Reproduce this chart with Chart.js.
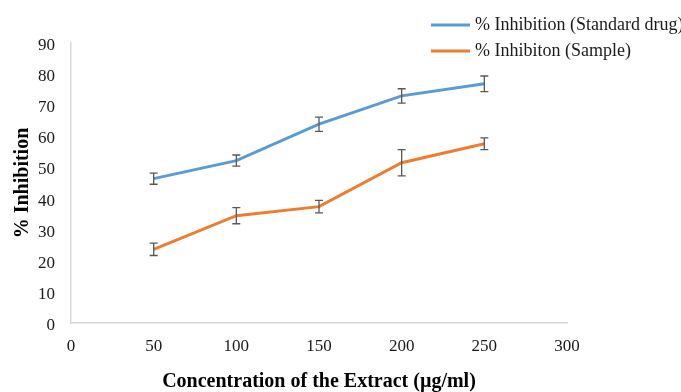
<!DOCTYPE html>
<html>
<head>
<meta charset="utf-8">
<script src="https://cdn.jsdelivr.net/npm/chart.js@4"></script>
<style>
  html, body { margin: 0; padding: 0; background: #fff; }
  #wrap { width: 681px; height: 392px; position: relative; }
</style>
</head>
<body>
<div id="wrap"><canvas id="c"></canvas></div>
<script>
const concentrations = [50, 100, 150, 200, 250];
const standardLabel = "% Inhibition (Standard drug)";
const standardValues = [46.4, 52.2, 63.9, 73.0, 76.9];
const standardErrors = [1.8, 1.8, 2.3, 2.3, 2.5];
const sampleLabel = "% Inhibiton (Sample)";
const sampleValues = [23.7, 34.5, 37.4, 51.5, 57.6];
const sampleErrors = [2.0, 2.6, 2.0, 4.2, 1.9];
const xTitle = "Concentration of the Extract (µg/ml)";
const yTitle = "% Inhibition";

const FONT = "'Liberation Serif', 'Times New Roman', serif";

const toPoints = (xs, ys) => xs.map((x, i) => ({ x: x, y: ys[i] }));

const errorBarPlugin = {
  id: 'errorBars',
  afterDatasetsDraw(chart) {
    const ctx = chart.ctx;
    const xs = chart.scales.x, ys = chart.scales.y;
    ctx.save();
    ctx.strokeStyle = '#595959';
    ctx.lineWidth = 1.3;
    chart.data.datasets.forEach(ds => {
      const errs = ds.errors || [];
      ds.data.forEach((p, i) => {
        const e = errs[i];
        if (e == null) return;
        const px = xs.getPixelForValue(p.x);
        const top = ys.getPixelForValue(p.y + e);
        const bot = ys.getPixelForValue(p.y - e);
        const cap = 4;
        ctx.beginPath();
        ctx.moveTo(px, top); ctx.lineTo(px, bot);
        ctx.moveTo(px - cap, top); ctx.lineTo(px + cap, top);
        ctx.moveTo(px - cap, bot); ctx.lineTo(px + cap, bot);
        ctx.stroke();
      });
    });
    ctx.restore();
  }
};

const legendPlugin = {
  id: 'customLegend',
  afterDraw(chart) {
    const ctx = chart.ctx;
    ctx.save();
    const rows = [25, 51];
    chart.data.datasets.forEach((ds, i) => {
      const y = rows[i];
      ctx.strokeStyle = ds.borderColor;
      ctx.lineWidth = 3;
      ctx.beginPath();
      ctx.moveTo(431, y); ctx.lineTo(470, y);
      ctx.stroke();
      ctx.fillStyle = '#1a1a1a';
      ctx.font = "18px " + FONT;
      ctx.textBaseline = 'middle';
      ctx.textAlign = 'left';
      ctx.fillText(ds.label, 475, y);
    });
    ctx.restore();
  }
};

new Chart(document.getElementById('c'), {
  type: 'line',
  data: {
    datasets: [
      {
        label: standardLabel,
        data: toPoints(concentrations, standardValues),
        errors: standardErrors,
        borderColor: '#5B9BD5',
        backgroundColor: '#5B9BD5',
        borderWidth: 3,
        pointRadius: 0,
        tension: 0
      },
      {
        label: sampleLabel,
        data: toPoints(concentrations, sampleValues),
        errors: sampleErrors,
        borderColor: '#ED7D31',
        backgroundColor: '#ED7D31',
        borderWidth: 3,
        pointRadius: 0,
        tension: 0
      }
    ]
  },
  options: {
    responsive: true,
    maintainAspectRatio: false,
    animation: false,
    layout: { padding: { left: 0, right: 114, top: 43, bottom: 0 } },
    plugins: {
      legend: { display: false },
      tooltip: { enabled: false }
    },
    scales: {
      x: {
        type: 'linear',
        min: 0, max: 300,
        ticks: { stepSize: 50, padding: 13, color: '#1a1a1a', font: { family: FONT, size: 17 }, maxRotation: 0 },
        grid: { display: false, drawTicks: false },
        border: { display: true, color: '#d9d9d9', width: 1.5 },
        title: { display: true, text: xTitle, color: '#000', font: { family: FONT, size: 20, weight: 'bold', lineHeight: 1.05 }, padding: { top: 0, bottom: 0 } },
        afterFit(scale) { scale.height = 69; }
      },
      y: {
        min: 0, max: 90,
        ticks: { stepSize: 10, padding: 16, labelOffset: 2.5, color: '#1a1a1a', font: { family: FONT, size: 17 } },
        grid: { display: false, drawTicks: false },
        border: { display: true, color: '#d9d9d9', width: 1.5 },
        title: { display: true, text: yTitle, color: '#000', font: { family: FONT, size: 20, weight: 'bold' }, padding: { top: 11, bottom: 0 } },
        afterFit(scale) { scale.width = 71; }
      }
    }
  },
  plugins: [errorBarPlugin, legendPlugin]
});
</script>
</body>
</html>
